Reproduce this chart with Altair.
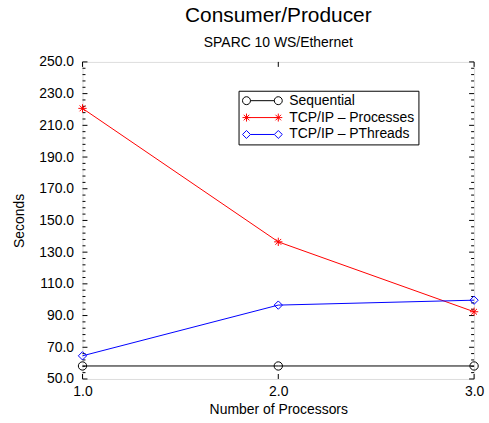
import altair as alt
import pandas as pd

# ---- data ----
processors = [1.0, 2.0, 3.0]
series_names = ["Sequential", "TCP/IP – Processes", "TCP/IP – PThreads"]
sequential = [58.2, 58.2, 58.2]
tcp_processes = [220.7, 136.5, 92.4]
tcp_pthreads = [64.6, 96.6, 99.7]
series_colors = ["#000000", "#ff0000", "#0000ff"]

y_major = [50, 70, 90, 110, 130, 150, 170, 190, 210, 230, 250]
y_minor = [v for v in range(50, 251, 4) if (v - 50) % 20 != 0]
x_ticks = [1.0, 2.0, 3.0]

FONT = "Liberation Sans"
W, H = 394, 319

rows = []
for name, vals in zip(series_names, [sequential, tcp_processes, tcp_pthreads]):
    for p, v in zip(processors, vals):
        rows.append({"procs": p, "secs": v, "series": name})
df = pd.DataFrame(rows)
legend_df = df[df["procs"] == processors[0]]

star = "M-1,0L1,0M0,-1L0,1M-0.7,-0.7L0.7,0.7M-0.7,0.7L0.7,-0.7"


def circle_at(c):
    return f"M{c+1},0A1,1 0 1,1 {c-1},0A1,1 0 1,1 {c+1},0"


def star_at(c):
    return (f"M{c-1},0L{c+1},0M{c},-1L{c},1M{c-0.7},-0.7L{c+0.7},0.7"
            f"M{c-0.7},0.7L{c+0.7},-0.7")


def diamond_at(c):
    return f"M{c},-1L{c+1},0L{c},1L{c-1},0Z"


a, b = -0.5, 7.5
legend_shapes = [
    f"M{a+1},0L{b-1},0" + circle_at(a) + circle_at(b),
    f"M{a},0L{b},0" + star_at(a) + star_at(b),
    f"M{a+1},0L{b-1},0" + diamond_at(a) + diamond_at(b),
]

xs = alt.Scale(domain=[1, 3], nice=False, zero=False)
ys = alt.Scale(domain=[50, 250], nice=False, zero=False)

x_enc = alt.X("procs:Q", scale=xs, title="Number of Processors",
              axis=alt.Axis(values=x_ticks, format=".1f", ticks=False, tickSize=0,
                            domain=False, grid=False, labelPadding=6, labelOverlap=False,
                            labelFlush=False,
                            labelFontSize=14, titleFontSize=14, titleFontWeight="normal",
                            labelFont=FONT, titleFont=FONT, titlePadding=4,
                            labelColor="black", titleColor="black"))
y_enc = alt.Y("secs:Q", scale=ys, title="Seconds",
              axis=alt.Axis(values=y_major, format=".1f", ticks=False, tickSize=0,
                            domain=False, grid=False, labelPadding=9, labelOverlap=False,
                            labelFlush=False,
                            labelFontSize=14, titleFontSize=14, titleFontWeight="normal",
                            labelFont=FONT, titleFont=FONT, titlePadding=12,
                            labelColor="black", titleColor="black"))

color_scale = alt.Scale(domain=series_names, range=series_colors)

lines = alt.Chart(df).mark_line(strokeWidth=1).encode(
    x=x_enc, y=y_enc,
    color=alt.Color("series:N", scale=color_scale, legend=None),
    detail="series:N",
)

points = alt.Chart(df).mark_point(filled=False, size=70, strokeWidth=1, opacity=1).encode(
    x=x_enc, y=y_enc,
    color=alt.Color("series:N", scale=color_scale, legend=None),
    shape=alt.Shape("series:N", scale=alt.Scale(domain=series_names,
                                                range=["circle", star, "diamond"]),
                    legend=None),
)

leg = alt.Legend(title=None, orient="none", legendX=157, legendY=29,
                 strokeColor="black", fillColor="white", padding=3,
                 labelFontSize=14, labelFont=FONT, labelColor="black",
                 symbolSize=64, symbolStrokeWidth=1, symbolOpacity=1,
                 labelOffset=34, rowPadding=3)

legend_layer = alt.Chart(legend_df).mark_point(filled=False, size=1, strokeWidth=1, opacity=0).encode(
    x=x_enc, y=y_enc,
    color=alt.Color("series:N", scale=color_scale, legend=leg),
    shape=alt.Shape("series:N", scale=alt.Scale(domain=series_names, range=legend_shapes),
                    legend=leg),
)

ymaj_df = pd.DataFrame({"secs": y_major})
ymin_df = pd.DataFrame({"secs": y_minor})
xt_df = pd.DataFrame({"procs": x_ticks})

ticks = [
    alt.Chart(ymaj_df).mark_rule(color="black", strokeWidth=1).encode(
        y=y_enc, x=alt.value(0), x2=alt.value(5)),
    alt.Chart(ymaj_df).mark_rule(color="black", strokeWidth=1).encode(
        y=y_enc, x=alt.value(W), x2=alt.value(W - 5)),
    alt.Chart(ymin_df).mark_rule(color="black", strokeWidth=1).encode(
        y=y_enc, x=alt.value(0), x2=alt.value(3)),
    alt.Chart(ymin_df).mark_rule(color="black", strokeWidth=1).encode(
        y=y_enc, x=alt.value(W), x2=alt.value(W - 3)),
    alt.Chart(xt_df).mark_rule(color="black", strokeWidth=1).encode(
        x=x_enc, y=alt.value(H), y2=alt.value(H - 5)),
    alt.Chart(xt_df).mark_rule(color="black", strokeWidth=1).encode(
        x=x_enc, y=alt.value(0), y2=alt.value(5)),
]

chart = alt.layer(*ticks, lines, points, legend_layer).resolve_scale(
    color="independent", shape="independent"
).properties(
    width=W, height=H,
    title=alt.TitleParams("Consumer/Producer", subtitle="SPARC 10 WS/Ethernet",
                          fontSize=21, subtitleFontSize=14, font=FONT, subtitleFont=FONT,
                          fontWeight="normal", color="black", subtitleColor="black",
                          anchor="middle", subtitlePadding=10, offset=5),
    padding={"left": 12, "top": 4, "right": 5, "bottom": 5},
).configure_view(stroke="black", strokeWidth=1).configure_axis(
    labelOverlap=False, labelFlush=False
).configure(background="white")

chart.save("out.html", embed_options={"renderer": "svg", "actions": False})
